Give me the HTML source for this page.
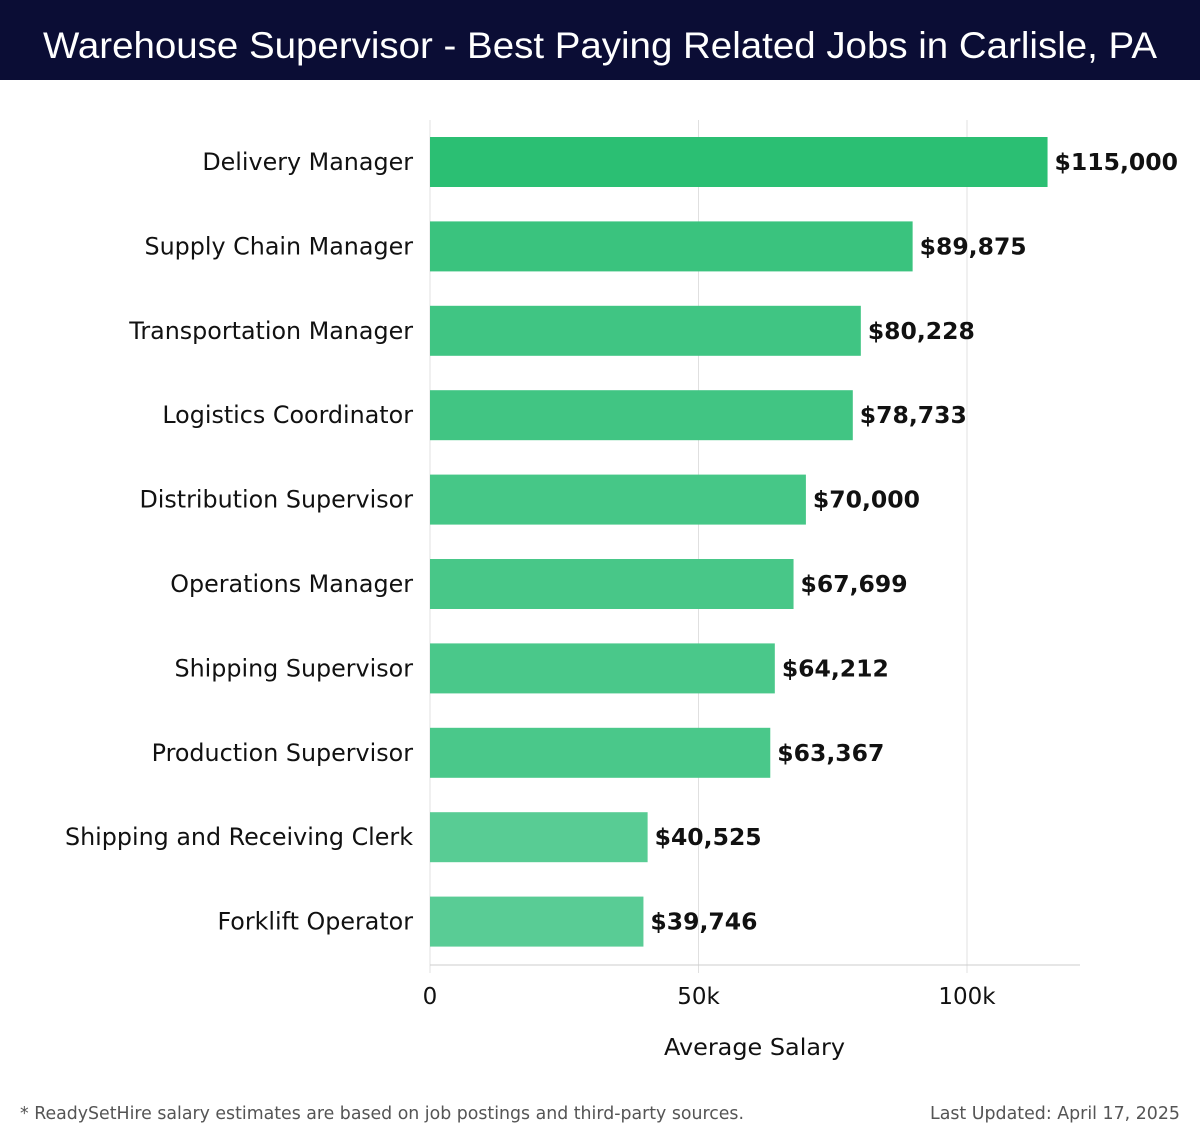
<!DOCTYPE html>
<html><head><meta charset="utf-8"><style>
body{margin:0;width:1200px;height:1140px;background:#fff;overflow:hidden;font-family:"DejaVu Sans","Liberation Sans",sans-serif}
</style></head><body>
<svg width="1200" height="1140" xmlns="http://www.w3.org/2000/svg" font-family="DejaVu Sans, Liberation Sans, sans-serif">
<rect x="0" y="0" width="1200" height="80" fill="#0b0d35"/>
<text x="43" y="58" textLength="1114" lengthAdjust="spacingAndGlyphs" fill="#fff" font-size="37" font-family="Liberation Sans, sans-serif">Warehouse Supervisor - Best Paying Related Jobs in Carlisle, PA</text>
<g id="grid"></g>
<g id="bars"></g>
<g id="axis"></g>
<text x="664" y="1055" textLength="181" lengthAdjust="spacingAndGlyphs" font-size="23" fill="#111">Average Salary</text>
<text x="20" y="1119" textLength="724" lengthAdjust="spacingAndGlyphs" font-size="18" fill="#555">* ReadySetHire salary estimates are based on job postings and third-party sources.</text>
<text x="930" y="1119" textLength="250" lengthAdjust="spacingAndGlyphs" font-size="18" fill="#555">Last Updated: April 17, 2025</text>
</svg>
<script>
const categories=["Delivery Manager","Supply Chain Manager","Transportation Manager","Logistics Coordinator","Distribution Supervisor","Operations Manager","Shipping Supervisor","Production Supervisor","Shipping and Receiving Clerk","Forklift Operator"];
const salaries=[115000,89875,80228,78733,70000,67699,64212,63367,40525,39746];
const tickValues=[0,50000,100000];
const tickLabels=["0","50k","100k"];
const NS="http://www.w3.org/2000/svg";
const x0=430,pxPer=(967-430)/100000,top0=120,step=84.4,barH=50;
const xs=v=>x0+v*pxPer;
const yc=i=>162+i*step;
function mk(t,a,p){const e=document.createElementNS(NS,t);for(const k in a)e.setAttribute(k,a[k]);p.appendChild(e);return e;}
const grid=document.getElementById('grid'),bars=document.getElementById('bars'),axis=document.getElementById('axis');
tickValues.forEach((v,i)=>{
 const l=mk('line',{x1:xs(v),x2:xs(v),y1:top0,y2:973,stroke:'#e0e0e0','stroke-width':1},grid);
 
 
 const t=mk('text',{x:xs(v),y:1004,'text-anchor':'middle','font-size':23,fill:'#111'},axis);
 t.textContent=tickLabels[i];
 
 
});
const al=mk('line',{x1:x0,x2:1080,y1:965,y2:965,stroke:'#ccc','stroke-width':1},axis);


const maxV=Math.max(...salaries);
categories.forEach((c,i)=>{
 const v=salaries[i],y=yc(i);
 const f=v/maxV; const r=Math.round(0x5c+(0x2b-0x5c)*(f-0.3)/0.7),g=Math.round(0xcd+(0xbf-0xcd)*(f-0.3)/0.7),b=Math.round(0x97+(0x73-0x97)*(f-0.3)/0.7);
 const rc=mk('rect',{x:x0,y:y-barH/2,width:xs(v)-x0,height:barH,fill:`rgb(${r},${g},${b})`},bars);
 
 
 const lb=mk('text',{x:413,y:y+8,'text-anchor':'end','font-size':23.8,fill:'#111'},bars);
 lb.textContent=c;
 
 
 const vl=mk('text',{x:xs(v)+7,y:y+8,'font-size':23.5,'font-weight':'bold',fill:'#111'},bars);
 vl.textContent='$'+v.toLocaleString('en-US');
 
 
});
</script>
</body></html>
